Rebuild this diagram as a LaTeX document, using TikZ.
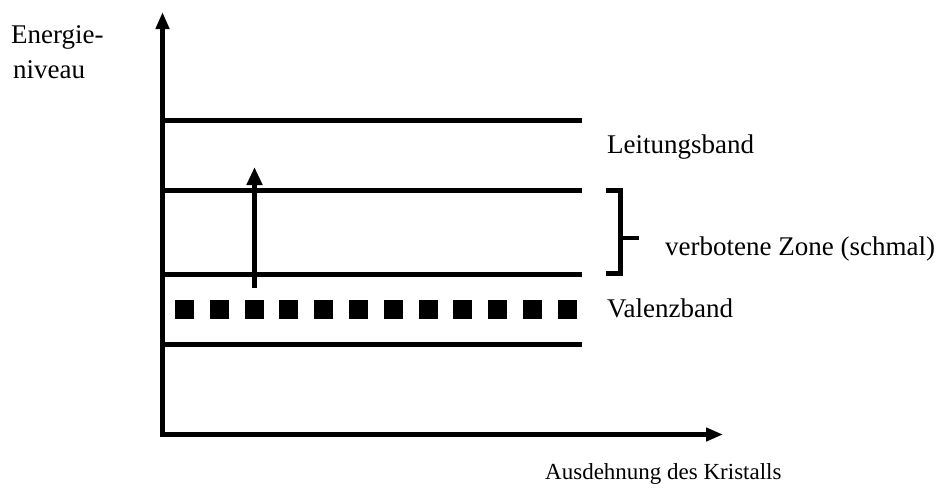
\documentclass[tikz,border=0pt]{standalone}
\usepackage{fontspec}
\setmainfont{Liberation Serif}
\usetikzlibrary{arrows.meta}
\begin{document}
\begin{tikzpicture}[x=1pt,y=-1pt,
  lbl/.style={inner sep=0pt,anchor=base west,font=\fontsize{27}{30}\selectfont},
  band/.style={line width=4.5pt},
  axis/.style={line width=5pt},
  tip/.style={-{Triangle[width=13pt,length=17pt]}},
  sq/.style={fill=black,minimum size=19pt,inner sep=0pt,draw=none}]
\useasboundingbox (0,0) rectangle (946,488);
% axes
\coordinate (O) at (162.5,434.5);
\coordinate (ytip) at (162.5,12);
\coordinate (xtip) at (723,434.5);
\draw[axis,{Triangle[width=13pt,length=17pt]}-{Triangle[width=13pt,length=17pt]}] (ytip) -- (O) -- (xtip);
% band lines
\foreach \n/\y in {l1/120.5,l2/190.5,l3/274.5,l4/344.5}{
  \coordinate (\n a) at (162.5,\y);
  \coordinate (\n b) at (582,\y);
  \draw[band] (\n a) -- (\n b);
}
% squares
\foreach \k in {0,...,11}{
  \node[sq] (s\k) at (184.5+34.8*\k,309) {};
}
% transition arrow
\coordinate (a1) at (254.5,288);
\coordinate (a2) at (254.5,167);
\draw[line width=4.5pt,-{Triangle[width=15pt,length=18pt]}] (a1) -- (a2);
% bracket
\coordinate (bt) at (606,190.5);
\coordinate (btr) at (620.5,190.5);
\coordinate (bbr) at (620.5,273.5);
\coordinate (bb) at (606,273.5);
\coordinate (bm) at (620.5,238);
\coordinate (bme) at (639,238);
\draw[line width=4.5pt] (bt) -- (btr) -- (bbr) -- (bb);
\draw[line width=4.5pt] (bm) -- (bme);
% labels
\node[lbl] (e1) at (11,43) {Energie-};
\node[lbl] (e2) at (13,78) {niveau};
\node[lbl] (lb) at (607,153) {Leitungsband};
\node[lbl] (vz) at (665,255) {verbotene Zone (schmal)};
\node[lbl] (vb) at (607,317) {Valenzband};
\node[lbl,font=\fontsize{23}{26}\selectfont] (ak) at (545,479) {Ausdehnung des Kristalls};
\end{tikzpicture}
\end{document}
